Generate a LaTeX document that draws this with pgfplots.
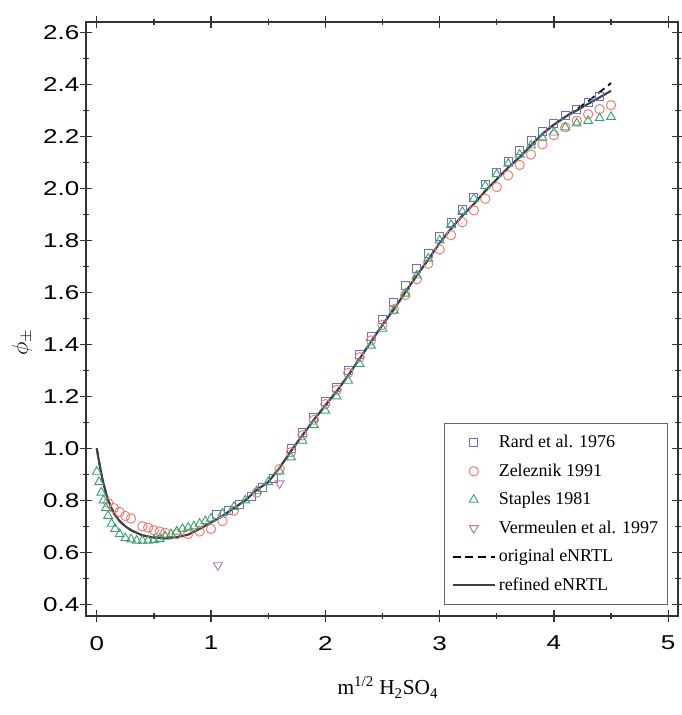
\documentclass[border=0pt]{standalone}
\usepackage{pgfplots}
\pgfplotsset{compat=1.18}
\usetikzlibrary{calc}
\usepackage{fontspec}
\setmainfont{Liberation Serif}
\setsansfont{Liberation Sans}
\newfontfamily\tickfont{Liberation Sans}[FakeStretch=1.3]

\definecolor{rardc}{RGB}{110,110,200}
\definecolor{zelc}{RGB}{240,120,110}
\definecolor{stapc}{RGB}{60,160,110}
\definecolor{vermc}{RGB}{170,120,175}

\begin{document}
\begin{tikzpicture}
\begin{axis}[
    scale only axis,
    width=444pt, height=445.5pt,
    xmin=-0.094, xmax=5.086,
    ymin=0.355, ymax=2.64,
    xtick={0,1,2,3,4,5},
    ytick={0.4,0.6,...,2.61},
    minor x tick num=1,
    minor y tick num=1,
    tick align=center,
    major tick length=9pt,
    minor tick length=4pt,
    every tick/.style={black!80, line width=1pt},
    axis line style={black!80, line width=1.3pt},
    /pgf/number format/assume math mode=true,
    ticklabel style={font=\tickfont\fontsize{15}{17}\selectfont},
    xticklabel style={yshift=-7pt},
    yticklabel style={xshift=3pt, /pgf/number format/fixed, /pgf/number format/fixed zerofill, /pgf/number format/precision=1},
    xlabel={m\textsuperscript{1/2} H\textsubscript{2}SO\textsubscript{4}},
    xlabel style={font=\fontsize{16}{18}\selectfont, at={(rel axis cs:0.51,0)}, anchor=north, yshift=-42pt},
    ylabel={$\phi_{\pm}$},
    ylabel style={font=\fontsize{18}{20}\selectfont, at={(rel axis cs:0,0.46)}, anchor=center, yshift=48pt},
    legend style={at={(rel axis cs:0.983,0.0185)}, anchor=south east,
        draw=black!60, line width=0.6pt, fill=white,
        font=\fontsize{13.5}{16}\selectfont, row sep=6.5pt,
        inner xsep=5pt, inner ysep=7pt},
    legend cell align=left,
    legend image code/.code={\draw[mark repeat=2,mark phase=2,#1] plot coordinates {(0cm,0cm)(0.56cm,0cm)(1.12cm,0cm)};},
]

% Rard et al. 1976
\addplot[only marks, mark=square, mark size=3pt, color=rardc, mark options={draw=rardc, line width=0.7pt}] coordinates {
(1.05,0.745) (1.15,0.76) (1.25,0.785) (1.35,0.815) (1.45,0.85) (1.55,0.885)
(1.7,1.0) (1.8,1.06) (1.9,1.12) (2.0,1.18) (2.1,1.235) (2.2,1.30) (2.3,1.36)
(2.4,1.43) (2.5,1.495) (2.6,1.56) (2.7,1.625) (2.8,1.69) (2.9,1.75) (3.0,1.815)
(3.1,1.87) (3.2,1.92) (3.3,1.965) (3.4,2.015) (3.5,2.06) (3.6,2.105) (3.7,2.145)
(3.8,2.185) (3.9,2.22) (4.0,2.25) (4.1,2.28) (4.2,2.305) (4.3,2.33) (4.4,2.355)
};
\addlegendentry{Rard et al. 1976}

% Zeleznik 1991
\addplot[only marks, mark=o, mark size=3.5pt, color=zelc, mark options={draw=zelc, line width=0.7pt}] coordinates {
(0.10,0.79) (0.15,0.77) (0.20,0.755) (0.25,0.74) (0.30,0.73) (0.40,0.70)
(0.45,0.695) (0.50,0.685) (0.55,0.68) (0.60,0.675) (0.70,0.67) (0.80,0.67)
(0.90,0.68) (1.00,0.69) (1.1,0.72) (1.2,0.76) (1.4,0.83) (1.6,0.92) (1.7,0.985)
(1.8,1.05) (1.9,1.11) (2.0,1.17) (2.1,1.225) (2.2,1.29) (2.3,1.35) (2.4,1.415)
(2.5,1.475) (2.6,1.535) (2.7,1.59) (2.8,1.65) (2.9,1.71) (3.0,1.765) (3.1,1.82)
(3.2,1.87) (3.3,1.915) (3.4,1.96) (3.5,2.005) (3.6,2.05) (3.7,2.09) (3.8,2.13)
(3.9,2.17) (4.0,2.205) (4.1,2.235) (4.2,2.26) (4.3,2.285) (4.4,2.305) (4.5,2.32)
};
\addlegendentry{Zeleznik 1991}

% Staples 1981
\addplot[only marks, mark=triangle, mark size=3.8pt, color=stapc, mark options={draw=stapc, line width=0.7pt}] coordinates {
(0.00,0.91) (0.02,0.87) (0.04,0.83) (0.06,0.80) (0.08,0.77) (0.10,0.74)
(0.13,0.71) (0.16,0.69) (0.20,0.67) (0.25,0.655) (0.30,0.65) (0.35,0.645)
(0.40,0.645) (0.45,0.645) (0.50,0.648) (0.55,0.652) (0.60,0.66) (0.65,0.67)
(0.70,0.68) (0.75,0.69) (0.80,0.695) (0.85,0.70) (0.90,0.71) (0.95,0.72)
(1.00,0.73) (1.1,0.75) (1.2,0.775) (1.3,0.80) (1.4,0.835) (1.5,0.87) (1.6,0.91)
(1.7,0.965) (1.8,1.03) (1.9,1.09) (2.0,1.145) (2.1,1.20) (2.2,1.26) (2.3,1.325)
(2.4,1.395) (2.5,1.46) (2.6,1.53) (2.7,1.595) (2.8,1.665) (2.9,1.73) (3.0,1.80)
(3.1,1.86) (3.2,1.91) (3.3,1.96) (3.4,2.01) (3.5,2.055) (3.6,2.095) (3.7,2.13)
(3.8,2.165) (3.9,2.195) (4.0,2.215) (4.1,2.235) (4.2,2.25) (4.3,2.26) (4.4,2.27)
(4.5,2.275)
};
\addlegendentry{Staples 1981}

% Vermeulen et al. 1997
\addplot[only marks, mark=triangle, mark size=3.8pt, color=vermc, mark options={draw=vermc, rotate=180, line width=0.7pt}] coordinates {
(1.06,0.55) (1.6,0.865)
};
\addlegendentry{Vermeulen et al. 1997}

% original eNRTL
\addplot[black, dash pattern=on 6pt off 3.5pt, line width=1.3pt] coordinates {
(0,1.00) (0.02,0.95) (0.05,0.88) (0.08,0.83) (0.1,0.80) (0.15,0.75) (0.2,0.72)
(0.25,0.70) (0.3,0.685) (0.4,0.665) (0.5,0.657) (0.6,0.655) (0.7,0.658)
(0.8,0.668) (0.9,0.69) (1.0,0.715) (1.1,0.74) (1.2,0.77) (1.3,0.80) (1.4,0.84)
(1.5,0.87) (1.6,0.925) (1.7,0.99) (1.8,1.05) (1.9,1.11) (2.0,1.165) (2.1,1.22)
(2.2,1.28) (2.3,1.345) (2.4,1.41) (2.5,1.475) (2.6,1.535) (2.7,1.60) (2.8,1.665)
(2.9,1.725) (3.0,1.79) (3.1,1.845) (3.2,1.895) (3.3,1.94) (3.4,1.99) (3.5,2.035)
(3.6,2.08) (3.7,2.12) (3.8,2.165) (3.9,2.21) (4.0,2.245) (4.1,2.275) (4.2,2.305)
(4.3,2.335) (4.4,2.37) (4.5,2.405)
};
\addlegendentry{original eNRTL}

% refined eNRTL
\addplot[black!75, solid, line width=1.6pt] coordinates {
(0,1.00) (0.02,0.95) (0.05,0.88) (0.08,0.83) (0.1,0.80) (0.15,0.75) (0.2,0.72)
(0.25,0.70) (0.3,0.685) (0.4,0.665) (0.5,0.657) (0.6,0.655) (0.7,0.658)
(0.8,0.668) (0.9,0.69) (1.0,0.715) (1.1,0.74) (1.2,0.77) (1.3,0.80) (1.4,0.84)
(1.5,0.87) (1.6,0.925) (1.7,0.99) (1.8,1.05) (1.9,1.11) (2.0,1.165) (2.1,1.22)
(2.2,1.28) (2.3,1.345) (2.4,1.41) (2.5,1.475) (2.6,1.535) (2.7,1.60) (2.8,1.665)
(2.9,1.725) (3.0,1.79) (3.1,1.845) (3.2,1.895) (3.3,1.94) (3.4,1.99) (3.5,2.035)
(3.6,2.08) (3.7,2.12) (3.8,2.165) (3.9,2.21) (4.0,2.245) (4.1,2.275) (4.2,2.30)
(4.3,2.325) (4.4,2.35) (4.5,2.375)
};
\addlegendentry{refined eNRTL}
\end{axis}
\pgfresetboundingbox
\path[use as bounding box] ($(current axis.south west)+(-64.5pt,-74.25pt)$) rectangle ($(current axis.north east)+(3pt,16.5pt)$);
\end{tikzpicture}
\end{document}
